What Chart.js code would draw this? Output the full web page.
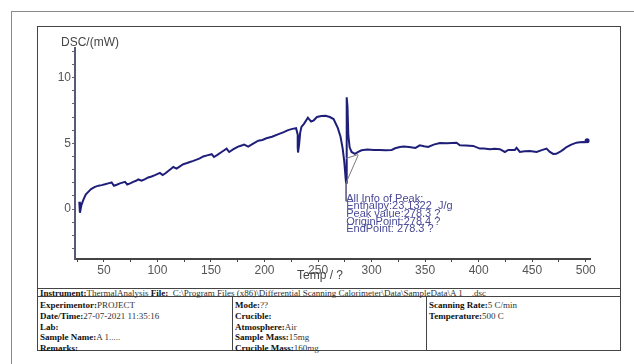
<!DOCTYPE html>
<html>
<head>
<meta charset="utf-8">
<script src="https://cdn.jsdelivr.net/npm/chart.js@4"></script>
<style>
  body { margin: 0; background: #fff; }
  #page { position: relative; width: 634px; height: 364px; overflow: hidden; }
  #outer { position: absolute; left: 11px; top: 11px; width: 640px; height: 400px; border-left: 1px solid #8a8a8a; border-top: 1px solid #8a8a8a; }
  #inner { position: absolute; left: 37px; top: 26px; width: 584px; height: 325px; border: 1px solid #444; box-sizing: border-box; }
  #plot { position: absolute; left: 0; top: 0; width: 634px; height: 288px; }
  .hl { position: absolute; height: 0; border-top: 1px solid #444; }
  .vl { position: absolute; width: 0; border-left: 1px solid #444; }
  .t { position: absolute; font-family: "Liberation Serif", serif; font-size: 9px; color: #333; white-space: nowrap; line-height: 10px; }
  .t b { color: #111; }
</style>
</head>
<body>
<div id="page">
  <div id="outer"></div>
  <div id="inner"></div>
  <div id="plot"><canvas id="dsc"></canvas></div>
  <div class="hl" style="left:37px;top:288px;width:584px"></div>
  <div class="hl" style="left:37px;top:296px;width:584px"></div>
  <div class="vl" style="left:232px;top:296px;height:55px"></div>
  <div class="vl" style="left:426px;top:296px;height:55px"></div>
  <div class="t" style="left:40px;top:288px"><b>Instrument:</b>ThermalAnalysis <b>File:</b>&nbsp; C:\Program Files (x86)\Differential Scanning Calorimeter\Data\SampleData\A 1 &nbsp;&nbsp; .dsc</div>
  <div class="t" style="left:40px;top:300px"><b>Experimentor:</b>PROJECT</div>
  <div class="t" style="left:40px;top:311px"><b>Date/Time:</b>27-07-2021 11:35:16</div>
  <div class="t" style="left:40px;top:322px"><b>Lab:</b></div>
  <div class="t" style="left:40px;top:332px"><b>Sample Name:</b>A 1.....</div>
  <div class="t" style="left:40px;top:343px"><b>Remarks:</b></div>
  <div class="t" style="left:235px;top:300px"><b>Mode:</b>??</div>
  <div class="t" style="left:235px;top:311px"><b>Crucible:</b></div>
  <div class="t" style="left:235px;top:322px"><b>Atmosphere:</b>Air</div>
  <div class="t" style="left:235px;top:332px"><b>Sample Mass:</b>15mg</div>
  <div class="t" style="left:235px;top:343px"><b>Crucible Mass:</b>160mg</div>
  <div class="t" style="left:429px;top:300px"><b>Scanning Rate:</b>5 C/min</div>
  <div class="t" style="left:429px;top:311px"><b>Temperature:</b>500 C</div>
</div>
<script>
// DSC curve (temperature, heat flow in mW)
const temps = [27.0, 27.6, 29, 30.7, 33, 35.4, 38, 41.6, 45, 47.9, 51, 54.1, 57.2, 59.4, 62, 65, 69.7, 71.8, 74.5, 77.4,
  80, 82.1, 85.2, 88, 91.4, 94.5, 97.7, 102.3, 104.9, 107.5, 110.1, 112.5, 114.8, 117.9, 121, 124.1, 127, 130.3, 133.5, 136.6,
  139.5, 142.8, 146.5, 150.6, 152.8, 156, 159.9, 162, 164.6, 167, 171, 175.3, 178, 181, 184.8, 189, 194.2, 198, 201.8, 207,
  213.1, 218, 222, 226, 229.5, 231.2, 231, 231.3, 232.3, 233.3, 234.5, 237, 240.5, 243.5, 246, 249, 253, 257, 261, 264.5,
  268.5, 271, 273, 274.5, 275.8, 276.2, 276.5, 276.8, 277.0, 277.5, 278.3, 279.5, 281.3, 284.4, 287.5, 290.6, 296, 302, 307.5, 313,
  318.8, 322, 326.4, 330, 335, 341, 345, 349, 352.9, 358, 363.8, 370, 375, 379.4, 382.4, 388, 394.9, 401.1, 405, 410.5,
  415, 419.8, 424.5, 427.6, 433.8, 435.4, 438.5, 443, 447.8, 451, 454.1, 459, 463.4, 466.5, 469.6, 472.5, 475.8, 479, 482.1, 486.5,
  491.4, 494.5, 497.6, 499.5, 501.3];
const dsc = [0.55, -0.28, 0.3, 0.68, 1.1, 1.31, 1.52, 1.69, 1.78, 1.82, 1.88, 1.95, 2.02, 1.77, 1.85, 1.95, 2.07, 1.87, 1.95, 2.07,
  2.15, 2.25, 2.15, 2.25, 2.4, 2.48, 2.58, 2.75, 2.58, 2.72, 2.9, 3.05, 3.2, 3.08, 3.25, 3.41, 3.48, 3.58, 3.66, 3.76,
  3.85, 4.0, 4.08, 4.17, 3.96, 4.12, 4.34, 4.45, 4.6, 4.34, 4.55, 4.75, 4.82, 4.9, 4.75, 4.95, 5.2, 5.25, 5.38, 5.5,
  5.7, 5.85, 6.0, 6.1, 6.15, 5.6, 4.7, 4.3, 4.9, 5.8, 6.25, 6.5, 6.95, 6.65, 6.75, 7.0, 7.08, 7.1, 7.0, 6.85,
  6.15, 5.5, 4.6, 3.6, 2.3, 2.0, 3.5, 6.5, 8.5, 7.8, 5.6, 4.7, 4.34, 4.2, 4.35, 4.47, 4.52, 4.5, 4.5, 4.48,
  4.5, 4.62, 4.72, 4.75, 4.72, 4.65, 4.85, 4.78, 4.72, 4.9, 5.02, 5.0, 5.03, 5.05, 4.85, 4.84, 4.8, 4.6, 4.6, 4.55,
  4.58, 4.55, 4.34, 4.5, 4.5, 4.65, 4.34, 4.4, 4.42, 4.38, 4.34, 4.48, 4.6, 4.35, 4.19, 4.2, 4.34, 4.52, 4.72, 4.9,
  5.05, 5.08, 5.1, 5.08, 5.2];

// peak construction lines
const tangentTemps = [276.2, 287.5];
const tangentVals = [2.0, 4.1];
const baseTemps = [276.2, 287.5];
const baseVals = [3.85, 4.15];
const dropTemps = [276.2, 276.2];
const dropVals = [2.0, 0.6];

const peakInfo = ['All Info of Peak:', 'Enthalpy:23.1322  J/g', 'Peak value:278.3 ?', 'OriginPoint:278.4 ?', 'EndPoint: 278.3 ?'];
const peakInfoAt = {x: 276.3, y: 0.78};

const pts = (xs, ys) => xs.map((x, i) => ({x: x, y: ys[i]}));

const extras = {
    id: 'extras',
    afterDraw(chart) {
        const c = chart.ctx;
        const xs = chart.scales.x, ys = chart.scales.y;
        c.save();
        c.fillStyle = '#454545';
        c.font = '12px "Liberation Sans", Arial, sans-serif';
        c.textBaseline = 'middle';
        c.fillText('DSC/(mW)', 61, 43);
        c.textAlign = 'center';
        c.fillText('Temp / ?', 320, 276);
        c.textAlign = 'left';
        c.fillStyle = '#4a4a98';
        c.font = '11px "Liberation Sans", Arial, sans-serif';
        const px = xs.getPixelForValue(peakInfoAt.x);
        const py = ys.getPixelForValue(peakInfoAt.y);
        peakInfo.forEach((s, i) => c.fillText(s, px, py + i * 7.6));
        c.restore();
    }
};

new Chart(document.getElementById('dsc'), {
    type: 'scatter',
    data: {
        datasets: [
            {data: pts(tangentTemps, tangentVals), showLine: true, borderColor: '#7a7a7a', borderWidth: 1, pointRadius: 0},
            {data: pts(baseTemps, baseVals), showLine: true, borderColor: '#7a7a7a', borderWidth: 1, pointRadius: 0},
            {data: pts(dropTemps, dropVals), showLine: true, borderColor: '#6a6a8a', borderWidth: 1, pointRadius: 0},
            {
                data: pts(temps, dsc), showLine: true, borderColor: '#1f1f7a', borderWidth: 2,
                pointRadius: ctx => ctx.dataIndex === temps.length - 1 ? 2.5 : 0,
                pointBackgroundColor: '#1f1f7a', pointBorderWidth: 0
            }
        ]
    },
    options: {
        responsive: true,
        maintainAspectRatio: false,
        animation: false,
        layout: {padding: {left: 40, right: 44, top: 48, bottom: 11}},
        plugins: {legend: {display: false}, tooltip: {enabled: false}},
        scales: {
            x: {
                type: 'linear', min: 23, max: 504,
                afterFit: s => { s.height = 18; },
                border: {color: '#444', width: 2},
                grid: {drawOnChartArea: false, tickLength: 3, color: '#444'},
                ticks: {
                    stepSize: 25, padding: 1, color: '#555', maxRotation: 0, autoSkip: false, includeBounds: false,
                    font: {family: '"Liberation Sans", Arial, sans-serif', size: 12},
                    callback: v => (v % 50 === 0 ? String(v) : '')
                }
            },
            y: {
                min: -3.8, max: 12.25,
                afterFit: s => { s.width = 35; },
                border: {color: '#555a78', width: 2},
                grid: {drawOnChartArea: false, tickLength: 3, color: '#666'},
                ticks: {
                    stepSize: 1, padding: 1, color: '#555', autoSkip: false, includeBounds: false,
                    font: {family: '"Liberation Sans", Arial, sans-serif', size: 12},
                    callback: v => (Math.round(v) === v && v % 5 === 0 ? String(v) : '')
                }
            }
        }
    },
    plugins: [extras]
});
</script>
</body>
</html>
